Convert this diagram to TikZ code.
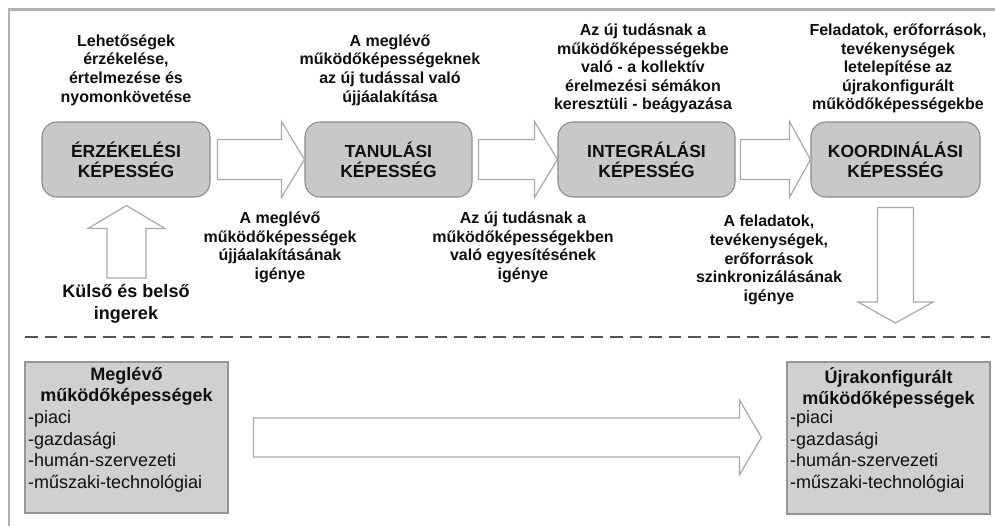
\documentclass[tikz,border=0pt]{standalone}
\usepackage{fontspec}
\setmainfont{Liberation Sans}
\usetikzlibrary{calc}
\definecolor{boxfill}{RGB}{200,200,200}
\definecolor{boxline}{RGB}{140,140,140}
\definecolor{sqfill}{RGB}{208,208,208}
\definecolor{sqline}{RGB}{150,150,150}
\definecolor{arrline}{RGB}{170,170,170}
\definecolor{framecol}{RGB}{178,178,178}
\definecolor{dashcol}{RGB}{85,85,85}
\definecolor{txt}{RGB}{15,15,15}
\newcommand\rblock[5]{% start, tip, shaft half, head half, head length
  \draw[blk] let \p1=#1, \p2=#2 in
    (\x1,\y1+#3) -- (\x2-#5,\y1+#3) -- (\x2-#5,\y1+#4) -- (\x2,\y1)
    -- (\x2-#5,\y1-#4) -- (\x2-#5,\y1-#3) -- (\x1,\y1-#3) -- cycle;}
\begin{document}
\begin{tikzpicture}[x=1pt,y=-1pt,
  capbox/.style={draw=boxline, fill=boxfill, rounded corners=15pt, line width=1.1pt,
    minimum height=75pt, inner sep=0pt, align=center, text=txt,
    font=\fontsize{17.5}{20}\selectfont\bfseries},
  sqbox/.style={draw=sqline, fill=sqfill, line width=1.1pt, inner sep=0pt,
    minimum width=203pt},
  lab/.style={align=center, inner sep=0pt, text=txt,
    font=\fontsize{16}{18.6}\selectfont\bfseries},
  sqtitle/.style={align=center, inner sep=0pt, text=txt, anchor=north,
    font=\fontsize{18}{21}\selectfont\bfseries},
  sqlist/.style={align=left, inner sep=0pt, text=txt, anchor=north west,
    font=\fontsize{18}{21.5}\selectfont},
  blk/.style={draw=arrline, fill=white, line width=1.2pt, line join=miter}]
\useasboundingbox (0,0) rectangle (995,525);
\fill[white] (0,0) rectangle (995,525);
% frame
\draw[framecol, line width=2.6pt] (9,526) -- (9,9.5) -- (996,9.5);

% capability boxes
\node[capbox, minimum width=168pt] (b1) at (126,159.5) {ÉRZÉKELÉSI\\KÉPESSÉG};
\node[capbox, minimum width=167pt] (b2) at (388.5,159.5) {TANULÁSI\\KÉPESSÉG};
\node[capbox, minimum width=177pt] (b3) at (646.5,159.5) {INTEGRÁLÁSI\\KÉPESSÉG};
\node[capbox, minimum width=169pt] (b4) at (895.5,159.5) {KOORDINÁLÁSI\\KÉPESSÉG};

% labels above
\node[lab] (t1) at (126,70) {Lehetőségek\\érzékelése,\\értelmezése és\\nyomonkövetése};
\node[lab] (t2) at (390,70) {A meglévő\\működőképességeknek\\az új tudással való\\újjáalakítása};
\node[lab] (t3) at (643,68.5) {Az új tudásnak a\\működőképességekbe\\való - a kollektív\\érelmezési sémákon\\keresztüli - beágyazása};
\node[lab] (t4) at (898,68.5) {Feladatok, erőforrások,\\tevékenységek\\letelepítése az\\újrakonfigurált\\működőképességekbe};

% labels below
\node[lab] (u1) at (280,247.5) {A meglévő\\működőképességek\\újjáalakításának\\igénye};
\node[lab] (u2) at (523,247.5) {Az új tudásnak a\\működőképességekben\\való egyesítésének\\igénye};
\node[lab] (u3) at (769,260) {A feladatok,\\tevékenységek,\\erőforrások\\szinkronizálásának\\igénye};
\node[lab, font=\fontsize{18}{22}\selectfont\bfseries] (ing) at (126,304) {Külső és belső\\ingerek};

% horizontal block arrows between boxes
\rblock{($(b1.east)+(7,0)$)}{(b2.west)}{20}{38}{23}
\rblock{($(b2.east)+(6,0)$)}{(b3.west)}{20}{38}{23}
\rblock{($(b3.east)+(5,0)$)}{(b4.west)}{20}{38}{21}

% up arrow (stimuli)
\coordinate (upTail) at (126.5,278);
\draw[blk] let \p1=(upTail), \p2=($(b1.south)+(0.5,8)$) in
  (\x1-19.5,\y1) -- (\x1-19.5,\y2-23) -- (\x1-38.5,\y2-23) -- (\x1,\y2)
  -- (\x1+38.5,\y2-23) -- (\x1+19.5,\y2-23) -- (\x1+19.5,\y1) -- cycle;

% down arrow
\coordinate (dnTip) at (895.5,323);
\draw[blk] let \p1=($(b4.south)+(0,10)$), \p2=(dnTip) in
  (\x1-18,\y1) -- (\x1-18,\y2+21) -- (\x1-37.5,\y2+21) -- (\x1,\y2)
  -- (\x1+37.5,\y2+21) -- (\x1+18,\y2+21) -- (\x1+18,\y1) -- cycle;

% dashed separator
\draw[dashcol, line width=1.8pt, dash pattern=on 12.5pt off 7pt] (25,337) -- (990,337);

% bottom boxes
\node[sqbox, minimum height=151pt] (mb) at (126.5,437.5) {};
\node[sqbox, minimum height=152pt] (rb) at (888.5,438) {};
\node[sqtitle] (mbT) at (126.5,367.5) {Meglévő\\működőképességek};
\node[sqlist] (mbL) at (28,410.5) {-piaci\\-gazdasági\\-humán-szervezeti\\-műszaki-technológiai};
\node[sqtitle] (rbT) at (888.5,367.5) {Újrakonfigurált\\működőképességek};
\node[sqlist] (rbL) at (790,410.5) {-piaci\\-gazdasági\\-humán-szervezeti\\-műszaki-technológiai};

% bottom arrow
\rblock{($(mb.east)+(25,0)$)}{($(rb.west)+(-25,0)$)}{19.5}{37.5}{22}
\end{tikzpicture}
\end{document}
